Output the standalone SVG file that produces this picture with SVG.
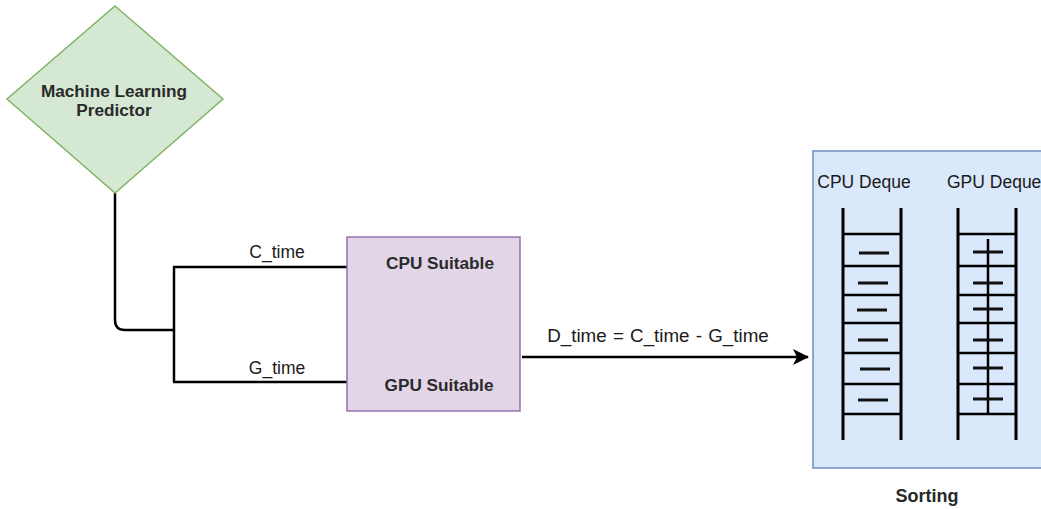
<svg xmlns="http://www.w3.org/2000/svg" width="1041" height="509" viewBox="0 0 1041 509">
  <defs>
    <marker id="arrow" viewBox="0 0 16 16" refX="15" refY="8" markerWidth="16" markerHeight="16" markerUnits="userSpaceOnUse" orient="auto">
      <path d="M0,0 L16,8 L0,16 L4,8 Z" fill="#000"/>
    </marker>
  </defs>
  <style>
    text { font-family: "Liberation Sans", Arial, sans-serif; fill: #1a1a1a; }
    .node-label { font-size: 17.2px; font-weight: bold; fill: #2a2a2a; }
    .edge-label { font-size: 17.5px; }
    .wire { fill: none; stroke: #000; stroke-width: 2.5; }
    .rail { stroke: #000; stroke-width: 3; stroke-linecap: butt; }
    .rung { stroke: #000; stroke-width: 2.5; }
    .item { stroke: #111; stroke-width: 3; }
  </style>

  <!-- connectors -->
  <g id="connectors">
    <path class="wire" d="M115,193 V320 Q115,330 125,330 H174"/>
    <path class="wire" d="M174,267 V382"/>
    <path class="wire" d="M173,267 H347"/>
    <path class="wire" d="M173,382 H347"/>
    <text class="edge-label" x="277" y="258" text-anchor="middle">C_time</text>
    <text class="edge-label" x="277" y="374" text-anchor="middle">G_time</text>
    <path class="wire" d="M522,357 H808" marker-end="url(#arrow)"/>
    <text class="edge-label" x="658" y="342" text-anchor="middle" style="font-size:18.8px; word-spacing:1px">D_time = C_time - G_time</text>
  </g>

  <!-- decision node -->
  <g id="predictor">
    <polygon points="115,6 223,99 115,193 7,99" fill="#d5e8d4" stroke="#82b366" stroke-width="1.5"/>
    <text class="node-label" x="114" y="97" text-anchor="middle">Machine Learning</text>
    <text class="node-label" x="114" y="116" text-anchor="middle">Predictor</text>
  </g>

  <!-- classification box -->
  <g id="suitability">
    <rect x="347" y="237" width="173" height="174" fill="#e1d5e7" stroke="#9673a6" stroke-width="1.5"/>
    <text class="node-label" x="440" y="269" text-anchor="middle">CPU Suitable</text>
    <text class="node-label" x="439" y="391" text-anchor="middle">GPU Suitable</text>
  </g>

  <!-- sorting container with the two deques -->
  <g id="sorting">
    <rect x="813" y="151" width="240" height="317" fill="#dae8fc" stroke="#6c8ebf" stroke-width="1.5"/>
    <text class="edge-label" x="864" y="188" text-anchor="middle">CPU Deque</text>
    <text class="edge-label" x="947" y="188">GPU Deque</text>
    <text class="node-label" x="927" y="502" text-anchor="middle" style="font-size:18px">Sorting</text>
  </g>

  <g id="cpu-deque">
    <line class="rail" x1="843" y1="208" x2="843" y2="440"/>
    <line class="rail" x1="901" y1="208" x2="901" y2="440"/>
    <g class="rung">
      <line x1="843" y1="234" x2="901" y2="234"/>
      <line x1="843" y1="266" x2="901" y2="266"/>
      <line x1="843" y1="295" x2="901" y2="295"/>
      <line x1="843" y1="323" x2="901" y2="323"/>
      <line x1="843" y1="353" x2="901" y2="353"/>
      <line x1="843" y1="384" x2="901" y2="384"/>
      <line x1="843" y1="414" x2="901" y2="414"/>
    </g>
    <g class="item">
      <line x1="859" y1="253" x2="889" y2="253"/>
      <line x1="858" y1="283" x2="888" y2="283"/>
      <line x1="857" y1="310" x2="887" y2="310"/>
      <line x1="858" y1="340" x2="888" y2="340"/>
      <line x1="860" y1="369" x2="890" y2="369"/>
      <line x1="858" y1="400" x2="888" y2="400"/>
    </g>
  </g>

  <g id="gpu-deque">
    <line class="rail" x1="958" y1="208" x2="958" y2="440"/>
    <line class="rail" x1="1016" y1="208" x2="1016" y2="440"/>
    <g class="rung">
      <line x1="958" y1="234" x2="1016" y2="234"/>
      <line x1="958" y1="266" x2="1016" y2="266"/>
      <line x1="958" y1="295" x2="1016" y2="295"/>
      <line x1="958" y1="323" x2="1016" y2="323"/>
      <line x1="958" y1="353" x2="1016" y2="353"/>
      <line x1="958" y1="384" x2="1016" y2="384"/>
      <line x1="958" y1="414" x2="1016" y2="414"/>
      <line x1="988" y1="239" x2="988" y2="414"/>
    </g>
    <g class="item">
      <line x1="973" y1="252" x2="1003" y2="252"/>
      <line x1="973" y1="283" x2="1003" y2="283"/>
      <line x1="973" y1="309" x2="1003" y2="309"/>
      <line x1="973" y1="340" x2="1003" y2="340"/>
      <line x1="973" y1="368" x2="1003" y2="368"/>
      <line x1="973" y1="399" x2="1003" y2="399"/>
    </g>
  </g>
</svg>
